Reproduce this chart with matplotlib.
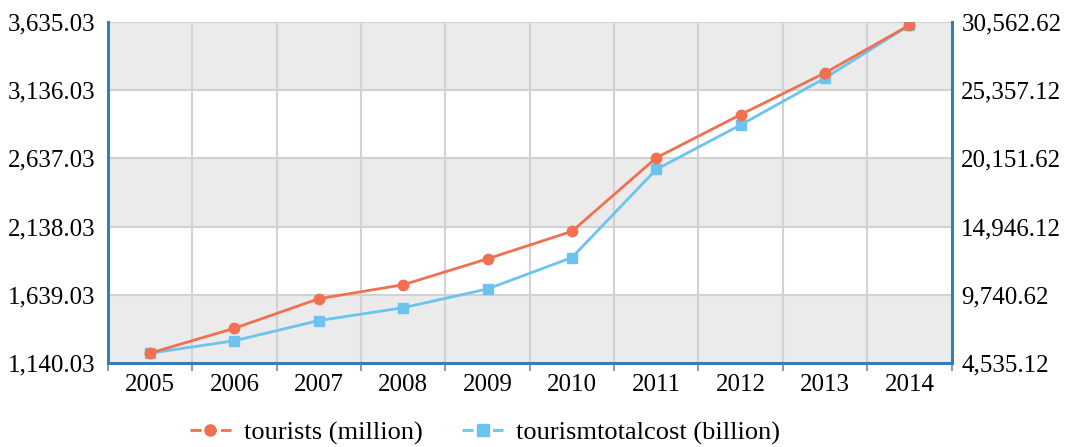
import matplotlib.pyplot as plt
from matplotlib.ticker import FixedLocator, NullFormatter
import numpy as np

years = ['2005', '2006', '2007', '2008', '2009', '2010', '2011', '2012', '2013', '2014']
tourists = [1212, 1394, 1610, 1712, 1902, 2103, 2641, 2957, 3262, 3611]
totalcost = [5286, 6230, 7771, 8749, 10184, 12580, 19305, 22706, 26276, 30312]

left_ticks = [1140.03, 1639.03, 2138.03, 2637.03, 3136.03, 3635.03]
right_ticks = [4535.12, 9740.62, 14946.12, 20151.62, 25357.12, 30562.62]

orange = '#f0704f'
blue = '#6cc3ee'
spine_blue = '#2f7fbd'
grid_gray = '#d2d2d2'
band_gray = '#ebebeb'

plt.rcParams['font.family'] = ['Liberation Serif', 'DejaVu Serif']

fig = plt.figure(figsize=(10.68, 4.47), dpi=100)
ax = fig.add_subplot(111)
fig.subplots_adjust(left=0.101, right=0.891, top=0.951, bottom=0.188)

x = np.arange(len(years))

# alternating bands
for i in range(len(left_ticks) - 1):
    color = band_gray if i % 2 == 0 else 'white'
    ax.axhspan(left_ticks[i], left_ticks[i + 1], color=color, zorder=0, lw=0)

ax.set_xlim(-0.5, len(years) - 0.5)
ax.set_ylim(left_ticks[0], left_ticks[-1])
ax.set_yticks(left_ticks)
ax.set_yticklabels(['{:,.2f}'.format(v) for v in left_ticks])

ax.xaxis.set_major_locator(FixedLocator(np.arange(-0.5, len(years), 1.0)))
ax.xaxis.set_major_formatter(NullFormatter())
ax.xaxis.set_minor_locator(FixedLocator(x))
ax.set_xticklabels(years, minor=True)
ax.tick_params(axis='x', which='major', length=6, width=1.5, color='#999999')
ax.tick_params(axis='x', which='minor', length=0, pad=8, labelsize=18)
ax.tick_params(axis='y', length=0, labelsize=18, pad=9)

ax.grid(True, which='major', color=grid_gray, lw=1.5, zorder=1)
ax.set_axisbelow(True)

ax2 = ax.twinx()
ax2.set_ylim(right_ticks[0], right_ticks[-1])
ax2.set_yticks(right_ticks)
ax2.set_yticklabels(['{:,.2f}'.format(v) for v in right_ticks])
ax2.tick_params(axis='y', length=0, labelsize=18, pad=7)

ax2.plot(x, totalcost, color=blue, lw=2, marker='s', ms=7, zorder=3)
ax2.plot(x, np.interp(tourists, [left_ticks[0], left_ticks[-1]],
                      [right_ticks[0], right_ticks[-1]]),
         color=orange, lw=2, marker='o', ms=7.5, zorder=4)

dash = (0, (4, 1.5))
l1_leg, = ax.plot([], [], color=orange, lw=2, marker='o', ms=8, ls=dash,
                  label='tourists (million)')
l2_leg, = ax.plot([], [], color=blue, lw=2, marker='s', ms=8, ls=dash,
                  label='tourismtotalcost (billion)')

for a in (ax, ax2):
    a.spines['top'].set_visible(False)
    for s in ('left', 'right', 'bottom'):
        a.spines[s].set_color(spine_blue)
        a.spines[s].set_linewidth(2)

fig.legend(handles=[l1_leg, l2_leg], loc='center', ncol=2, frameon=False,
           bbox_to_anchor=(485 / 1068, 1 - 433 / 447), fontsize=19,
           handlelength=1.55, handletextpad=0.5, columnspacing=1.5)

fig.savefig('out.png', dpi=100)
